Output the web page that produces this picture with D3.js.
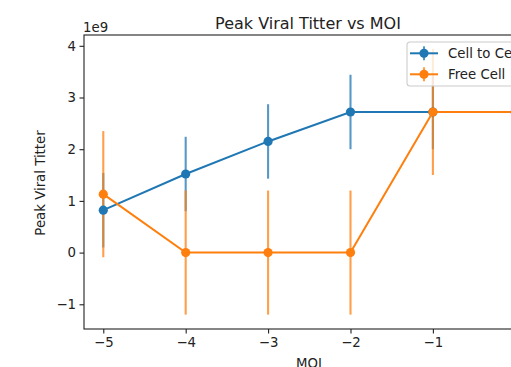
<!DOCTYPE html>
<html>
<head>
<meta charset="utf-8">
<script src="https://cdn.jsdelivr.net/npm/d3@7"></script>
<style>
  body { margin: 0; background: #fff; overflow: hidden; }
  svg { font-family: "DejaVu Sans", sans-serif; display: block; }
</style>
</head>
<body>
<div id="chart"></div>
<script>
// values in units of 1e9
const moi = [-5, -4, -3, -2, -1, 0];
const cellToCell = [0.82, 1.52, 2.15, 2.72, 2.72, 2.72];
const cellToCellErr = [0.72, 0.72, 0.72, 0.72, 0.72, 0.72];
const freeCell = [1.13, 0, 0, 0, 2.72, 2.72];
const freeCellErr = [1.22, 1.2, 1.2, 1.2, 1.22, 1.22];
const yTicks = [-1, 0, 1, 2, 3, 4];
const xTicks = [-5, -4, -3, -2, -1, 0];

const series = [
  {name: "Cell to Cell", vals: cellToCell, err: cellToCellErr, color: "#1f77b4"},
  {name: "Free Cell", vals: freeCell, err: freeCellErr, color: "#ff7f0e"}
];

let width = 511, height = 367;
let mLeft = 84, mRight = 534, mTop = 35, mBottom = 329;
let fs = 13.3;

let svg = d3.select("#chart").append("svg")
  .attr("width", width).attr("height", height);

let x = d3.scaleLinear().domain([-5.234, 0.227]).range([mLeft, mRight]);
let y = d3.scaleLinear().domain([-1.478, 4.209]).range([mBottom, mTop]);

// error bars first, then lines + markers
series.forEach(s => {
  svg.append("g").selectAll("line")
    .data(moi)
    .join("line")
    .attr("x1", d => x(d)).attr("x2", d => x(d))
    .attr("y1", (d, i) => y(s.vals[i] - s.err[i]))
    .attr("y2", (d, i) => y(s.vals[i] + s.err[i]))
    .attr("stroke", s.color)
    .attr("stroke-width", 2.1)
    .attr("opacity", 0.75);
});

series.forEach(s => {
  let line = d3.line().x((d, i) => x(moi[i])).y(d => y(d));
  svg.append("path")
    .datum(s.vals)
    .attr("d", line)
    .attr("fill", "none")
    .attr("stroke", s.color)
    .attr("stroke-width", 2);
  svg.append("g").selectAll("circle")
    .data(s.vals)
    .join("circle")
    .attr("cx", (d, i) => x(moi[i]))
    .attr("cy", d => y(d))
    .attr("r", 4.6)
    .attr("fill", s.color);
});

// frame
svg.append("rect")
  .attr("x", mLeft).attr("y", mTop)
  .attr("width", mRight - mLeft).attr("height", mBottom - mTop)
  .attr("fill", "none").attr("stroke", "#222").attr("stroke-width", 1.1);

let minus = d => d < 0 ? "\u2212" + Math.abs(d) : d;
let xAxis = svg.append("g")
  .attr("transform", `translate(0,${mBottom})`)
  .call(d3.axisBottom(x).tickValues(xTicks).tickSize(4.5).tickPadding(4.5).tickFormat(minus));
let yAxis = svg.append("g")
  .attr("transform", `translate(${mLeft},0)`)
  .call(d3.axisLeft(y).tickValues(yTicks).tickSize(4.5).tickPadding(3.5).tickFormat(minus));
[xAxis, yAxis].forEach(a => {
  a.select(".domain").remove();
  a.selectAll("line").attr("stroke", "#222").attr("stroke-width", 1.1);
  a.selectAll("text").attr("font-size", fs).attr("fill", "#222")
    .attr("font-family", "DejaVu Sans, sans-serif");
});

svg.append("text")
  .attr("x", mLeft - 1).attr("y", 31.5)
  .attr("font-size", fs).attr("fill", "#222").text("1e9");

svg.append("text")
  .attr("x", (mLeft + mRight) / 2 - 1).attr("y", 28.5)
  .attr("text-anchor", "middle").attr("font-size", 16).attr("fill", "#222")
  .text("Peak Viral Titter vs MOI");

svg.append("text")
  .attr("transform", `translate(45,183) rotate(-90)`)
  .attr("text-anchor", "middle").attr("font-size", fs).attr("fill", "#222")
  .text("Peak Viral Titter");

svg.append("text")
  .attr("x", 309).attr("y", 368)
  .attr("text-anchor", "middle").attr("font-size", fs).attr("fill", "#222")
  .text("MOI");

// legend
let lg = svg.append("g").attr("transform", "translate(407,42)");
lg.append("rect")
  .attr("width", 140).attr("height", 44).attr("rx", 3)
  .attr("fill", "#fff").attr("fill-opacity", 0.8)
  .attr("stroke", "#ccc").attr("stroke-width", 1.1);
series.forEach((s, i) => {
  let yy = 11.3 + i * 21;
  lg.append("line")
    .attr("x1", 3).attr("x2", 31).attr("y1", yy).attr("y2", yy)
    .attr("stroke", s.color).attr("stroke-width", 2);
  lg.append("line")
    .attr("x1", 17).attr("x2", 17).attr("y1", yy - 7).attr("y2", yy + 7)
    .attr("stroke", s.color).attr("stroke-width", 2.1).attr("opacity", 0.75);
  lg.append("circle").attr("cx", 17).attr("cy", yy).attr("r", 4.6).attr("fill", s.color);
  lg.append("text").attr("x", 41).attr("y", yy + 4.8)
    .attr("font-size", fs).attr("fill", "#222").text(s.name);
});
</script>
</body>
</html>
